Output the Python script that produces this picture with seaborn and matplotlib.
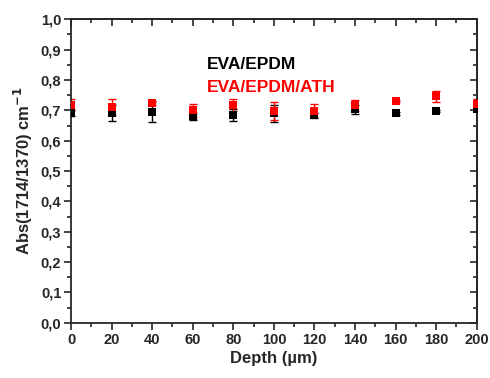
import numpy as np
import pandas as pd
import matplotlib
matplotlib.use("Agg")
import matplotlib.pyplot as plt
import seaborn as sns

# data
depth = [0, 20, 40, 60, 80, 100, 120, 140, 160, 180, 200]
eva_epdm = [0.690, 0.691, 0.695, 0.680, 0.686, 0.690, 0.683, 0.703, 0.690, 0.697, 0.703]
eva_epdm_err = [0.010, 0.027, 0.035, 0.012, 0.020, 0.028, 0.008, 0.016, 0.005, 0.004, 0.005]
eva_epdm_ath = [0.718, 0.711, 0.723, 0.700, 0.717, 0.697, 0.699, 0.717, 0.731, 0.746, 0.721]
eva_epdm_ath_err = [0.018, 0.026, 0.005, 0.022, 0.019, 0.030, 0.022, 0.018, 0.004, 0.018, 0.015]

series = ["EVA/EPDM", "EVA/EPDM/ATH"]
colors = ["black", "red"]
y_ticks = [0.0, 0.1, 0.2, 0.3, 0.4, 0.5, 0.6, 0.7, 0.8, 0.9, 1.0]
y_labels = ["0,0", "0,1", "0,2", "0,3", "0,4", "0,5", "0,6", "0,7", "0,8", "0,9", "1,0"]
x_ticks = [0, 20, 40, 60, 80, 100, 120, 140, 160, 180, 200]

df = pd.DataFrame({
    "Depth": depth * 2,
    "Abs": eva_epdm + eva_epdm_ath,
    "err": eva_epdm_err + eva_epdm_ath_err,
    "Sample": [series[0]] * len(depth) + [series[1]] * len(depth),
})

sns.set_style("ticks")
plt.rcParams["font.family"] = ["Liberation Sans", "DejaVu Sans"]
plt.rcParams["font.weight"] = "bold"

fig = plt.figure(figsize=(4.9, 3.78), dpi=100)
ax = fig.add_axes([0.145, 0.146, 0.828, 0.803])

for name, col in zip(series, colors):
    sub = df[df["Sample"] == name]
    ax.errorbar(sub["Depth"], sub["Abs"], yerr=sub["err"], fmt="none",
                ecolor=col, elinewidth=1.0, capsize=3, capthick=1.0, zorder=2)
    sns.scatterplot(data=sub, x="Depth", y="Abs", color=col, marker="s",
                    s=36, edgecolor=col, linewidth=0, ax=ax, zorder=3)

ax.set_xlim(0, 200)
ax.set_ylim(0, 1.0)
ax.set_xticks(x_ticks)
ax.set_xticks(np.arange(10, 200, 20), minor=True)
ax.set_yticks(y_ticks)
ax.set_yticklabels(y_labels)
ax.set_yticks(np.arange(0.05, 1.0, 0.1), minor=True)
ax.tick_params(axis="both", which="major", direction="out", length=5, width=1.2,
               labelsize=10.5, pad=2)
ax.tick_params(axis="both", which="minor", direction="out", length=3, width=1.2)
for lab in ax.get_xticklabels() + ax.get_yticklabels():
    lab.set_fontweight("bold")

# inward ticks on top and right, like the original
top = ax.secondary_xaxis("top")
top.set_xticks(x_ticks)
top.set_xticks(np.arange(10, 200, 20), minor=True)
top.tick_params(which="major", direction="in", length=5, width=1.2, labeltop=False)
top.tick_params(which="minor", direction="in", length=3, width=1.2)
right = ax.secondary_yaxis("right")
right.set_yticks(y_ticks)
right.set_yticks(np.arange(0.05, 1.0, 0.1), minor=True)
right.tick_params(which="major", direction="in", length=5, width=1.2, labelright=False)
right.tick_params(which="minor", direction="in", length=3, width=1.2)
for sp in list(ax.spines.values()) + [top.spines["top"], right.spines["right"]]:
    sp.set_linewidth(1.3)

ax.set_xlabel("Depth (µm)", fontsize=12, fontweight="bold", labelpad=3)
ax.set_ylabel("Abs(1714/1370) cm$^{\\mathbf{-1}}$", fontsize=12, fontweight="bold", labelpad=4)

ax.text(0.335, 0.835, series[0], transform=ax.transAxes, color="black",
        fontsize=12.5, fontweight="bold")
ax.text(0.335, 0.762, series[1], transform=ax.transAxes, color="red",
        fontsize=12.5, fontweight="bold")
if ax.get_legend():
    ax.get_legend().remove()

fig.savefig("out.png", dpi=100)
